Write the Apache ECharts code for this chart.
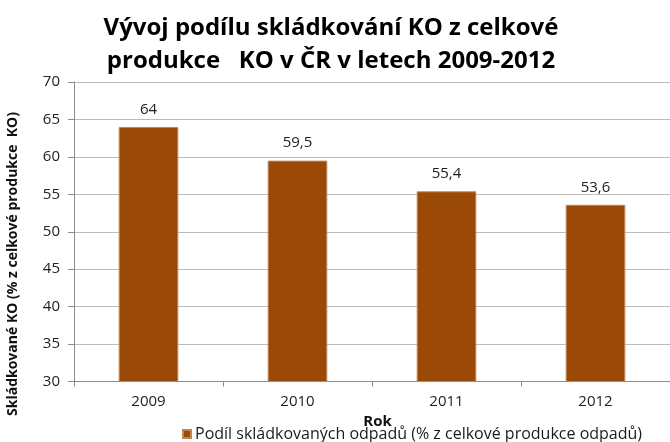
<!DOCTYPE html>
<html>
<head>
<meta charset="utf-8">
<script src="https://cdn.jsdelivr.net/npm/echarts@6/dist/echarts.min.js"></script>
<style>
  html, body { margin: 0; padding: 0; background: #fff; }
  #chart { width: 670px; height: 442px; }
</style>
</head>
<body>
<div id="chart"></div>
<script>
  // data
  var years = ['2009', '2010', '2011', '2012'];
  var shareLandfilled = [64, 59.5, 55.4, 53.6];
  var yTicks = { min: 30, max: 70, step: 5 };

  var FONT = '"Open Sans", sans-serif';
  var chart = echarts.init(document.getElementById('chart'));

  var option = {
    backgroundColor: '#fff',
    animation: false,
    title: {
      text: 'Vývoj podílu skládkování KO z celkové\nprodukce   KO v ČR v letech 2009-2012',
      left: 326,
      top: 7,
      textAlign: 'center',
      textStyle: {
        fontFamily: FONT,
        fontSize: 24,
        fontWeight: 'bold',
        color: '#000',
        lineHeight: 33
      }
    },
    legend: {
      left: 177,
      top: 421,
      itemWidth: 8,
      itemHeight: 8,
      itemGap: 4,
      icon: 'rect',
      textStyle: { fontFamily: FONT, fontSize: 16, color: '#1a1a1a', padding: [0, 0, 0, -1] },
      data: ['Podíl skládkovaných odpadů (% z celkové produkce odpadů)']
    },
    grid: { left: 74, right: -4, top: 82, bottom: 60.5, containLabel: false },
    xAxis: {
      type: 'category',
      data: years,
      name: 'Rok',
      nameLocation: 'middle',
      nameGap: 30,
      nameTextStyle: { fontFamily: FONT, fontSize: 15, fontWeight: 'bold', color: '#111', padding: [0, 0, 0, 11] },
      axisLine: { lineStyle: { color: '#8c8c8c', width: 1 } },
      axisTick: { show: true, length: 5, lineStyle: { color: '#8c8c8c' } },
      axisLabel: { fontFamily: FONT, fontSize: 15, color: '#222', margin: 13 }
    },
    yAxis: {
      type: 'value',
      min: yTicks.min,
      max: yTicks.max,
      interval: yTicks.step,
      axisLine: { show: true, lineStyle: { color: '#8c8c8c', width: 1 } },
      axisTick: { show: true, length: 6, lineStyle: { color: '#8c8c8c' } },
      axisLabel: { fontFamily: FONT, fontSize: 15, color: '#222', margin: 14 },
      splitLine: { lineStyle: { color: '#bdbdbd', width: 1 } }
    },
    graphic: [{
      type: 'text',
      x: 13,
      y: 264,
      rotation: Math.PI / 2,
      style: {
        text: 'Skládkované KO (% z celkové produkce  KO)',
        fontFamily: FONT,
        fontSize: 14,
        fontWeight: 'bold',
        fill: '#111',
        align: 'center',
        verticalAlign: 'middle'
      }
    }],
    series: [{
      name: 'Podíl skládkovaných odpadů (% z celkové produkce odpadů)',
      type: 'bar',
      data: shareLandfilled,
      barWidth: '40%',
      itemStyle: { color: '#9a4a06', borderColor: '#c08654', borderWidth: 1 },
      label: {
        show: true,
        position: 'top',
        distance: 10,
        fontFamily: FONT,
        fontSize: 15,
        color: '#222',
        formatter: function (p) { return String(p.value).replace('.', ','); }
      }
    }]
  };

  chart.setOption(option);
</script>
</body>
</html>
